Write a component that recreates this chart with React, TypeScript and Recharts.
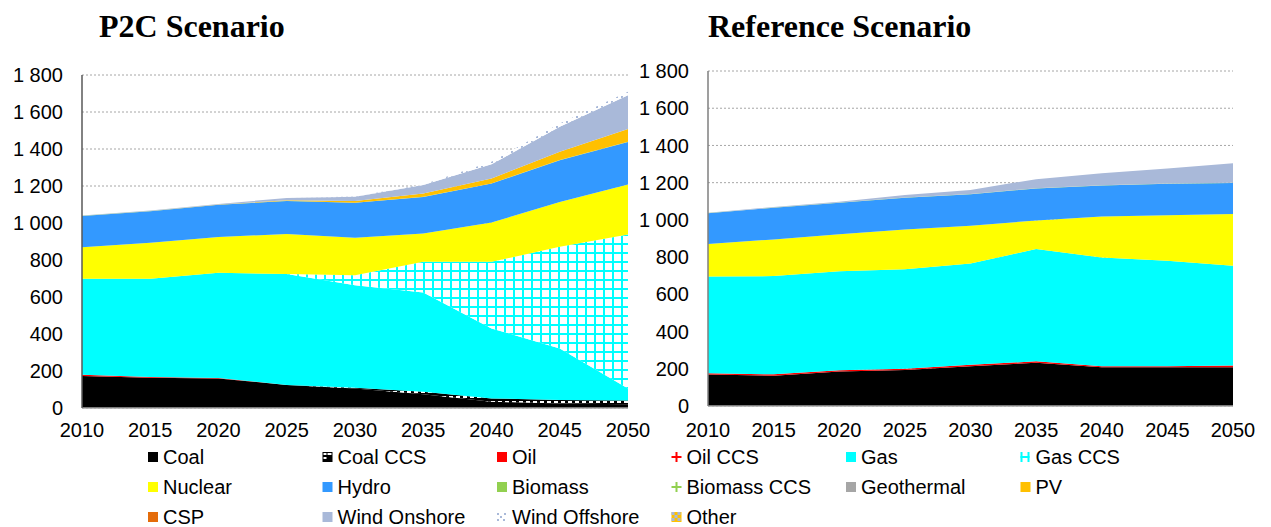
import React from 'react';
import { AreaChart, Area, XAxis, YAxis, CartesianGrid } from 'recharts';

const years = [2010, 2015, 2020, 2025, 2030, 2035, 2040, 2045, 2050];
const yTicks = [0, 200, 400, 600, 800, 1000, 1200, 1400, 1600, 1800];

const seriesNames = [
  'Coal', 'Coal CCS', 'Oil', 'Oil CCS', 'Gas', 'Gas CCS',
  'Nuclear', 'Hydro', 'Biomass', 'Biomass CCS', 'Geothermal', 'PV',
  'CSP', 'Wind Onshore', 'Wind Offshore', 'Other',
];

// P2C Scenario (TWh)
const p2cCoal = [173, 164, 160, 124, 106, 74, 34, 25, 20];
const p2cCoalCCS = [0, 0, 0, 0, 3, 14, 18, 18, 20];
const p2cOil = [7, 4, 2, 1, 0, 0, 0, 0, 0];
const p2cOilCCS = [0, 0, 0, 0, 0, 0, 0, 0, 0];
const p2cGas = [518, 530, 569, 599, 555, 537, 378, 279, 66];
const p2cGasCCS = [0, 0, 0, 0, 54, 165, 360, 549, 832];
const p2cNuclear = [171, 195, 194, 216, 202, 153, 213, 243, 270];
const p2cHydro = [169, 171, 173, 179, 189, 198, 210, 225, 230];
const p2cBiomass = [1, 1, 1, 1, 1, 1, 1, 1, 1];
const p2cBiomassCCS = [0, 0, 0, 0, 0, 0, 0, 0, 0];
const p2cGeothermal = [0, 0, 0, 0, 0, 0, 0, 0, 0];
const p2cPV = [0, 0, 1, 3, 9, 18, 27, 45, 69];
const p2cCSP = [0, 0, 0, 0, 0, 0, 0, 0, 0];
const p2cWindOn = [2, 2, 3, 12, 23, 45, 76, 135, 183];
const p2cWindOff = [0, 0, 0, 0, 1, 3, 14, 18, 18];
const p2cOther = [0, 0, 0, 0, 0, 0, 0, 0, 0];

// Reference Scenario (TWh)
const refCoal = [169, 163, 185, 194, 213, 233, 208, 208, 208];
const refCoalCCS = [0, 0, 0, 0, 0, 0, 0, 0, 0];
const refOil = [7, 7, 7, 6, 8, 7, 5, 5, 9];
const refOilCCS = [0, 0, 0, 0, 0, 0, 0, 0, 0];
const refGas = [520, 528, 532, 535, 545, 603, 585, 567, 536];
const refGasCCS = [0, 0, 0, 0, 0, 0, 0, 0, 0];
const refNuclear = [174, 197, 199, 214, 202, 154, 220, 245, 278];
const refHydro = [166, 170, 169, 170, 170, 172, 167, 169, 167];
const refBiomass = [1, 1, 1, 1, 1, 1, 1, 1, 1];
const refBiomassCCS = [0, 0, 0, 0, 0, 0, 0, 0, 0];
const refGeothermal = [0, 0, 0, 0, 0, 0, 0, 0, 0];
const refPV = [0, 0, 0, 0, 0, 0, 0, 0, 0];
const refCSP = [0, 0, 0, 0, 0, 0, 0, 0, 0];
const refWindOn = [2, 3, 5, 14, 22, 49, 65, 81, 106];
const refWindOff = [0, 0, 0, 0, 0, 0, 0, 0, 0];
const refOther = [0, 0, 0, 0, 0, 0, 0, 0, 0];

const p2cSeries = [p2cCoal, p2cCoalCCS, p2cOil, p2cOilCCS, p2cGas, p2cGasCCS, p2cNuclear, p2cHydro,
  p2cBiomass, p2cBiomassCCS, p2cGeothermal, p2cPV, p2cCSP, p2cWindOn, p2cWindOff, p2cOther];
const refSeries = [refCoal, refCoalCCS, refOil, refOilCCS, refGas, refGasCCS, refNuclear, refHydro,
  refBiomass, refBiomassCCS, refGeothermal, refPV, refCSP, refWindOn, refWindOff, refOther];

const buildTable = (series: number[][]) =>
  years.map((y, i) => {
    const row: Record<string, number> = { year: y };
    seriesNames.forEach((n, k) => { row[n] = series[k][i]; });
    return row;
  });

const p2cData = buildTable(p2cSeries);
const refData = buildTable(refSeries);

const solid: Record<string, string> = {
  Coal: '#000000', Oil: '#FF0000', Gas: '#00FFFF', Nuclear: '#FFFF00', Hydro: '#3399FF',
  Biomass: '#92D050', Geothermal: '#A6A6A6', PV: '#FFC000', CSP: '#E46C0A', 'Wind Onshore': '#A9B9D9',
};
const patternId: Record<string, string> = {
  'Coal CCS': 'coalccs', 'Oil CCS': 'oilccs', 'Gas CCS': 'gasccs', 'Biomass CCS': 'bioccs',
  'Wind Offshore': 'windoff', Other: 'other',
};

const fillFor = (prefix: string, name: string) =>
  solid[name] ? solid[name] : `url(#${prefix}-${patternId[name]})`;

const fmt = (v: number) =>
  v >= 1000 ? `${Math.floor(v / 1000)} ${String(v % 1000).padStart(3, '0')}` : `${v}`;

const patternDefs = (p: string) => (
  <defs>
    <pattern id={`${p}-coalccs`} width={7} height={5} patternUnits="userSpaceOnUse">
      <rect width={7} height={5} fill="#000" />
      <rect x={1} y={1} width={4} height={2} fill="#fff" />
    </pattern>
    <pattern id={`${p}-gasccs`} width={9} height={9} patternUnits="userSpaceOnUse">
      <rect width={9} height={9} fill="#fff" />
      <rect width={9} height={2} fill="#00FFFF" />
      <rect width={2} height={9} fill="#00FFFF" />
    </pattern>
    <pattern id={`${p}-oilccs`} width={6} height={6} patternUnits="userSpaceOnUse">
      <rect width={6} height={6} fill="#fff" />
      <rect x={2} width={2} height={6} fill="#FF0000" />
      <rect y={2} width={6} height={2} fill="#FF0000" />
    </pattern>
    <pattern id={`${p}-bioccs`} width={6} height={6} patternUnits="userSpaceOnUse">
      <rect width={6} height={6} fill="#fff" />
      <rect x={2} width={2} height={6} fill="#92D050" />
      <rect y={2} width={6} height={2} fill="#92D050" />
    </pattern>
    <pattern id={`${p}-windoff`} width={5} height={5} patternUnits="userSpaceOnUse">
      <rect width={5} height={5} fill="#fff" />
      <rect x={1} y={1} width={2} height={2} fill="#A9B9D9" />
    </pattern>
    <pattern id={`${p}-other`} width={4} height={4} patternUnits="userSpaceOnUse">
      <rect width={4} height={4} fill="#FFC000" />
      <rect width={2} height={2} fill="#A9B9D9" />
      <rect x={2} y={2} width={2} height={2} fill="#A9B9D9" />
    </pattern>
  </defs>
);

const tickStyle = { fontFamily: '"Liberation Sans", Arial, sans-serif', fontSize: 20, fill: '#000' };

function ScenarioChart(props: {
  data: Record<string, number>[]; prefix: string; width: number; height: number;
  margin: { top: number; right: number; left: number; bottom: number }; yAxisColor: string; xTickMargin: number;
}) {
  const { data, prefix, width, height, margin, yAxisColor, xTickMargin } = props;
  return (
    <AreaChart width={width} height={height} data={data} margin={margin}>
      {patternDefs(prefix)}
      <CartesianGrid vertical={false} stroke="#A6A6A6" strokeDasharray="2 2" />
      <XAxis
        dataKey="year"
        height={32}
        tick={tickStyle}
        tickLine={false}
        tickSize={6}
        tickMargin={xTickMargin}
        axisLine={{ stroke: '#A6A6A6', strokeWidth: 1.5 }}
        interval={0}
      />
      <YAxis
        width={82}
        domain={[0, 1800]}
        ticks={yTicks}
        tickFormatter={fmt}
        tick={tickStyle}
        tickLine={false}
        tickSize={6}
        tickMargin={13}
        axisLine={{ stroke: yAxisColor, strokeWidth: 1.5 }}
        interval={0}
      />
      {seriesNames.map((n) => (
        <Area
          key={n}
          dataKey={n}
          name={n}
          stackId="s"
          type="linear"
          stroke="none"
          fill={fillFor(prefix, n)}
          fillOpacity={1}
          isAnimationActive={false}
          dot={false}
          activeDot={false}
        />
      ))}
    </AreaChart>
  );
}

const legendRows = [
  ['Coal', 'Coal CCS', 'Oil', 'Oil CCS', 'Gas', 'Gas CCS'],
  ['Nuclear', 'Hydro', 'Biomass', 'Biomass CCS', 'Geothermal', 'PV'],
  ['CSP', 'Wind Onshore', 'Wind Offshore', 'Other'],
];

function LegendMarker({ name, x, y }: { name: string; x: number; y: number }) {
  const s = 10;
  const t = y - s / 2;
  if (solid[name]) return <rect x={x} y={t} width={s} height={s} fill={solid[name]} />;
  if (name === 'Coal CCS')
    return (
      <g>
        <rect x={x} y={t} width={s} height={s} fill="#000" />
        <rect x={x + 1} y={t + 1} width={3} height={2} fill="#fff" />
        <rect x={x + 1} y={t + 5} width={3} height={2} fill="#fff" />
        <rect x={x + 5} y={t + 1} width={4} height={2} fill="#fff" />
      </g>
    );
  if (name === 'Oil CCS' || name === 'Biomass CCS') {
    const c = name === 'Oil CCS' ? '#FF0000' : '#92D050';
    return (
      <g>
        <rect x={x} y={y - 1} width={s} height={2} fill={c} />
        <rect x={x + 4} y={t} width={2} height={s} fill={c} />
      </g>
    );
  }
  if (name === 'Gas CCS')
    return (
      <g>
        <rect x={x} y={t} width={2} height={s} fill="#00FFFF" />
        <rect x={x + 7} y={t} width={2} height={s} fill="#00FFFF" />
        <rect x={x} y={y - 1} width={9} height={2} fill="#00FFFF" />
      </g>
    );
  if (name === 'Wind Offshore')
    return (
      <g fill="#A9B9D9">
        <rect x={x} y={t + 1} width={2} height={2} />
        <rect x={x + 3} y={t + 4} width={2} height={2} />
        <rect x={x + 7} y={t + 1} width={2} height={2} />
        <rect x={x + 6} y={t + 7} width={2} height={2} />
        <rect x={x} y={t + 7} width={2} height={2} />
      </g>
    );
  return (
    <g>
      <rect x={x} y={t} width={s} height={s} fill="#FFC000" />
      <rect x={x} y={t} width={3} height={3} fill="#A9B9D9" />
      <rect x={x + 6} y={t} width={3} height={3} fill="#A9B9D9" />
      <rect x={x + 3} y={t + 3} width={3} height={3} fill="#A9B9D9" />
      <rect x={x} y={t + 6} width={3} height={3} fill="#A9B9D9" />
      <rect x={x + 6} y={t + 6} width={3} height={3} fill="#A9B9D9" />
    </g>
  );
}

const titleStyle = { fontFamily: '"Liberation Serif", "Times New Roman", serif', fontWeight: 'bold' as const, fontSize: 32 };

export default function App() {
  return (
    <div style={{ position: 'absolute', left: 0, top: 0, width: 1271, height: 527, background: '#fff', overflow: 'hidden' }}>
      <svg width={1271} height={527} style={{ position: 'absolute', left: 0, top: 0 }}>
        <text x={99} y={37} style={titleStyle} fill="#000">P2C Scenario</text>
        <text x={708} y={37} style={titleStyle} fill="#000">Reference Scenario</text>
        {legendRows.map((row, r) =>
          row.map((n, c) => {
            const mx = 148 + 174.5 * c;
            const cy = 457 + 30 * r;
            return (
              <g key={n}>
                <LegendMarker name={n} x={mx} y={cy} />
                <text x={mx + 15} y={cy} dy="0.35em" style={{ fontFamily: '"Liberation Sans", Arial, sans-serif', fontSize: 20 }} fill="#000">
                  {n}
                </text>
              </g>
            );
          })
        )}
      </svg>
      <div style={{ position: 'absolute', left: 0, top: 0 }}>
        <ScenarioChart
          data={p2cData}
          prefix="p2c"
          width={660}
          height={450}
          margin={{ top: 75, right: 32, left: 0, bottom: 10 }}
          yAxisColor="#595959"
          xTickMargin={9}
        />
      </div>
      <div style={{ position: 'absolute', left: 626, top: 0 }}>
        <ScenarioChart
          data={refData}
          prefix="ref"
          width={645}
          height={450}
          margin={{ top: 71, right: 38, left: 0, bottom: 12 }}
          yAxisColor="#7F7F7F"
          xTickMargin={11}
        />
      </div>
    </div>
  );
}
